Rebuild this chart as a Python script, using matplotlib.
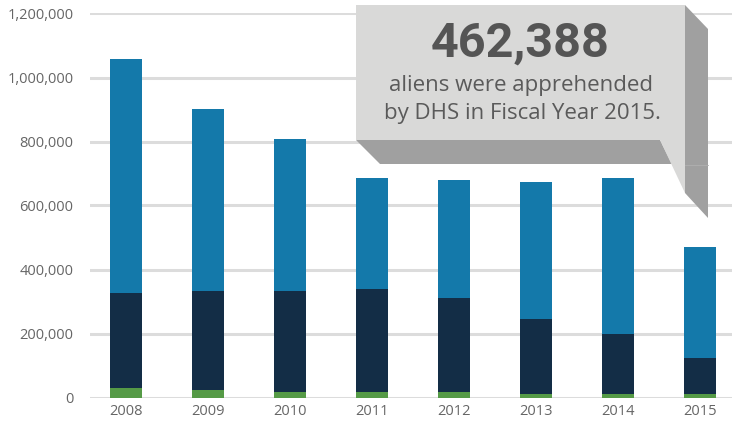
import numpy as np
import matplotlib
matplotlib.use('Agg')
import matplotlib.pyplot as plt
from matplotlib.patches import Polygon
from matplotlib.ticker import FuncFormatter

# Werte
years = ['2008', '2009', '2010', '2011', '2012', '2013', '2014', '2015']
green = np.array([30000, 23000, 17000, 17000, 17000, 10000, 10000, 10000])
navy = np.array([297500, 311000, 317000, 322000, 295000, 236000, 189000, 114000])
blue = np.array([730000, 568000, 474000, 346000, 367000, 426000, 486000, 347000])
yticks = [0, 200000, 400000, 600000, 800000, 1000000, 1200000]

callout_number = '462,388'
callout_lines = ['aliens were apprehended', 'by DHS in Fiscal Year 2015.']

c_blue = '#1479aa'
c_navy = '#132d46'
c_green = '#559a46'
c_grid = '#dcdcdc'
c_text = '#666666'

plt.rcParams['font.family'] = ['Open Sans', 'DejaVu Sans']

fig = plt.figure(figsize=(7.32, 4.23), dpi=100)
ax = fig.add_axes([90 / 732, 1 - 397.5 / 423, 642 / 732, 384 / 423])

x = np.arange(len(years))
w = 0.39
ax.bar(x, green, w, color=c_green, zorder=3)
ax.bar(x, navy, w, bottom=green, color=c_navy, zorder=3)
ax.bar(x, blue, w, bottom=green + navy, color=c_blue, zorder=3)

ax.set_xlim(-0.44, 7.39)
ax.set_ylim(0, 1200000)
ax.set_yticks(yticks)
ax.yaxis.set_major_formatter(FuncFormatter(lambda v, p: '{:,.0f}'.format(v)))
ax.set_xticks(x)
ax.set_xticklabels(years)
ax.tick_params(length=0, labelsize=10.5, labelcolor=c_text)
ax.tick_params(axis='y', pad=12)
ax.tick_params(axis='x', pad=5)
for s in ax.spines.values():
    s.set_visible(False)
ax.grid(axis='y', color=c_grid, linewidth=2.2, zorder=0)
ax.set_axisbelow(True)

# Sprechblase oben rechts (Pixelkoordinaten)
ov = fig.add_axes([0, 0, 1, 1])
ov.set_xlim(0, 732)
ov.set_ylim(423, 0)
ov.axis('off')

front = [(356, 5), (685, 5), (685, 193), (660, 140), (356, 140)]
side = [(685, 5), (708, 29), (708, 218), (685, 193)]
bottom = [(356, 140), (380, 164), (672, 164), (660, 140)]
ov.add_patch(Polygon(side, closed=True, facecolor='#a0a0a0', edgecolor='none'))
ov.add_patch(Polygon(bottom, closed=True, facecolor='#a0a0a0', edgecolor='none'))
ov.add_patch(Polygon(front, closed=True, facecolor='#d9d9d8', edgecolor='none'))
ov.plot([685, 708], [165, 165], color='#b0b0b0', linewidth=0.6)

ov.text(520, 44, callout_number, ha='center', va='center', fontsize=35,
        fontweight='bold', color='#555555', family=['Roboto', 'DejaVu Sans'])
ov.text(521, 86, callout_lines[0], ha='center', va='center', fontsize=16,
        color='#5a5a5a')
ov.text(522, 114, callout_lines[1], ha='center', va='center', fontsize=16,
        color='#5a5a5a')

fig.savefig('out.png', dpi=100)
